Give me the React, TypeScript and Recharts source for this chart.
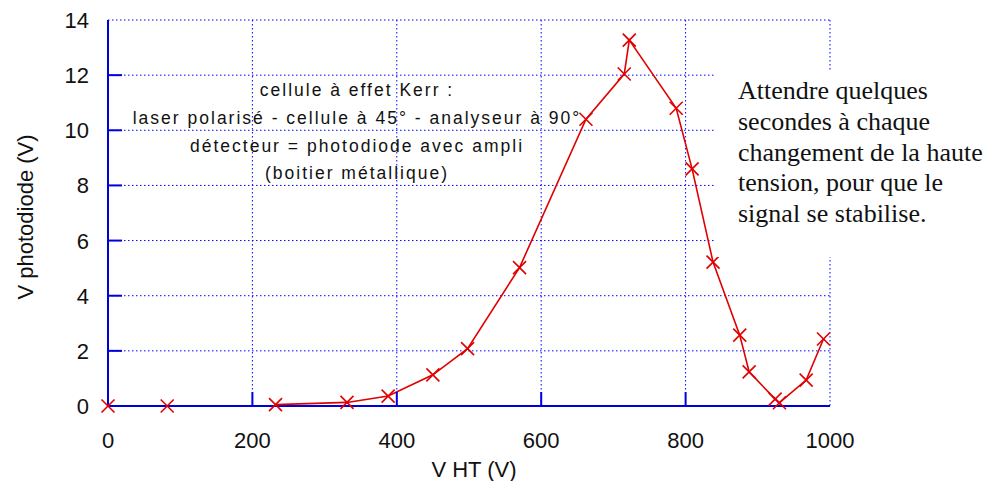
import React from "react";
import {
  ComposedChart,
  Scatter,
  XAxis,
  YAxis,
  CartesianGrid,
} from "recharts";

// high voltage (V) and photodiode voltage (V)
const htAlone = [0, 82];
const pdAlone = [0, 0];
const htSeries = [232, 331, 388, 450, 498, 570, 662, 715, 722, 787, 809, 838, 875, 888, 924, 930, 967, 991];
const pdSeries = [0.05, 0.13, 0.36, 1.13, 2.08, 5.02, 10.4, 12.04, 13.27, 10.8, 8.6, 5.22, 2.57, 1.24, 0.25, 0.12, 0.94, 2.43];

const xTicks = [0, 200, 400, 600, 800, 1000];
const yTicks = [0, 2, 4, 6, 8, 10, 12, 14];

const noteLines = [
  "cellule à effet Kerr :",
  "laser polarisé - cellule à 45° - analyseur à 90°",
  "détecteur = photodiode avec ampli",
  "(boitier métallique)",
];
const sideLines = [
  "Attendre quelques",
  "secondes à chaque",
  "changement de la haute",
  "tension, pour que le",
  "signal se stabilise.",
];

const BLUE = "#0000dd";
const RED = "#e00000";
const SANS = "'Liberation Sans', Arial, sans-serif";
const SERIF = "'Liberation Serif', 'Times New Roman', serif";

const alone = htAlone.map((ht, i) => ({ ht, pd: pdAlone[i] }));
const linked = htSeries.map((ht, i) => ({ ht, pd: pdSeries[i] }));

const XMark = (props: any) => {
  const { cx, cy } = props;
  const s = 6.5;
  return (
    <g stroke={RED} strokeWidth={1.6}>
      <line x1={cx - s} y1={cy - s} x2={cx + s} y2={cy + s} />
      <line x1={cx - s} y1={cy + s} x2={cx + s} y2={cy - s} />
    </g>
  );
};

const isEnd = (v: number, lo: number, hi: number) => v === lo || v === hi;

const BottomTick = ({ x, y, payload }: any) => (
  <g>
    {!isEnd(payload.value, 0, 1000) && (
      <line x1={x} x2={x} y1={y} y2={y - 14} stroke={BLUE} strokeWidth={2} />
    )}
    <text x={x} y={y + 42} textAnchor="middle" fontSize={22} fontFamily={SANS} fill="#111">
      {payload.value}
    </text>
  </g>
);

const TopTick = ({ x, y, payload }: any) =>
  isEnd(payload.value, 0, 1000) ? <g /> : (
    <line x1={x} x2={x} y1={y} y2={y + 14} stroke={BLUE} strokeWidth={2} />
  );

const LeftTick = ({ x, y, payload }: any) => (
  <g>
    {!isEnd(payload.value, 0, 14) && (
      <line x1={x} x2={x + 14} y1={y} y2={y} stroke={BLUE} strokeWidth={2} />
    )}
    <text x={x - 19} y={y + 8} textAnchor="end" fontSize={22} fontFamily={SANS} fill="#111">
      {payload.value}
    </text>
  </g>
);

const RightTick = ({ x, y, payload }: any) =>
  isEnd(payload.value, 0, 14) ? <g /> : (
    <line x1={x} x2={x - 14} y1={y} y2={y} stroke={BLUE} strokeWidth={2} />
  );

export default function App() {
  const axisLine = { stroke: BLUE, strokeWidth: 2 };
  return (
    <div style={{ position: "absolute", left: 0, top: 0, width: 994, height: 481, background: "#fff" }}>
      <ComposedChart width={994} height={481} margin={{ top: 20, right: 164, bottom: 0, left: 0 }}>
        <CartesianGrid stroke="#0000ff" strokeDasharray="1.5 2.5" strokeWidth={1} />
        <XAxis
          dataKey="ht"
          type="number"
          domain={[0, 1000]}
          ticks={xTicks}
          interval={0}
          height={75}
          tickSize={0}
          tickMargin={0}
          tickLine={false}
          axisLine={axisLine}
          tick={BottomTick}
          label={{ value: "V HT (V)", position: "insideBottom", offset: 4, dx: 5, fontSize: 22, fontFamily: SANS, fill: "#111" }}
        />
        <XAxis
          xAxisId="top"
          orientation="top"
          type="number"
          domain={[0, 1000]}
          ticks={xTicks}
          interval={0}
          height={0}
          tickSize={0}
          tickMargin={0}
          tickLine={false}
          axisLine={axisLine}
          tick={TopTick}
        />
        <YAxis
          dataKey="pd"
          type="number"
          domain={[0, 14]}
          ticks={yTicks}
          interval={0}
          width={108}
          tickSize={0}
          tickMargin={0}
          tickLine={false}
          axisLine={axisLine}
          tick={LeftTick}
          label={{
            value: "V photodiode (V)",
            angle: -90,
            position: "insideLeft",
            offset: 25,
            dy: 4,
            fontSize: 22,
            fontFamily: SANS,
            fill: "#111",
            style: { textAnchor: "middle" },
          }}
        />
        <YAxis
          yAxisId="right"
          orientation="right"
          type="number"
          domain={[0, 14]}
          ticks={yTicks}
          interval={0}
          width={0}
          tickSize={0}
          tickMargin={0}
          tickLine={false}
          axisLine={axisLine}
          tick={RightTick}
        />
        <Scatter data={alone} shape={XMark} isAnimationActive={false} />
        <Scatter
          data={linked}
          shape={XMark}
          line={{ stroke: RED, strokeWidth: 1.6 }}
          isAnimationActive={false}
        />
      </ComposedChart>

      <div
        style={{
          position: "absolute",
          left: 57,
          top: 77,
          width: 600,
          textAlign: "center",
          fontFamily: SANS,
          fontSize: 17.5,
          letterSpacing: 2,
          lineHeight: "27.8px",
          color: "#111",
          whiteSpace: "pre",
        }}
      >
        {noteLines.map((t) => (
          <div key={t}>{t}</div>
        ))}
      </div>

      <div
        style={{
          position: "absolute",
          left: 716,
          top: 72,
          width: 278,
          height: 185,
          background: "#fff",
        }}
      >
        <div
          style={{
            position: "absolute",
            left: 22,
            top: 4,
            fontFamily: SERIF,
            fontSize: 26,
            lineHeight: "30.8px",
            color: "#111",
            whiteSpace: "pre",
          }}
        >
          {sideLines.map((t) => (
            <div key={t}>{t}</div>
          ))}
        </div>
      </div>
    </div>
  );
}
